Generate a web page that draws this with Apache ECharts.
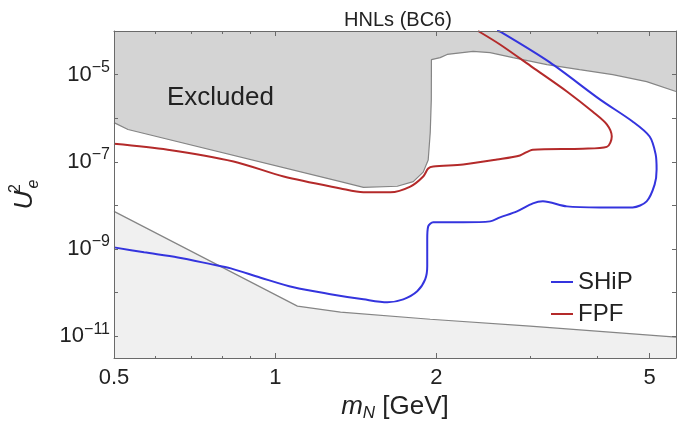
<!DOCTYPE html>
<html><head><meta charset="utf-8">
<script src="https://cdn.jsdelivr.net/npm/echarts@6/dist/echarts.min.js"></script>
<style>html,body{margin:0;padding:0;background:#fff}#c{width:678px;height:427px}</style>
</head><body><div id="c"></div>
<script>
// ---- data (mass in GeV, mixing U_e^2) ----
const shipMass = [2.595, 2.628, 3.256, 4.036, 4.646, 5.000, 5.130, 5.152, 5.108, 4.936, 4.646, 4.036, 3.503, 3.160, 3.027, 2.827, 2.628, 2.518, 2.243, 1.972, 1.930, 1.922, 1.922, 1.905, 1.841, 1.734, 1.619, 1.461, 1.268, 1.082, 0.939, 0.826, 0.758, 0.658, 0.569, 0.500];
const shipU2   = [1.0e-4, 9.7e-5, 1.9e-5, 2.7e-6, 8.4e-7, 3.8e-7, 1.5e-7, 6.7e-8, 3.0e-8, 1.24e-8, 9.0e-9, 9.0e-9, 9.5e-9, 1.24e-8, 1.11e-8, 7.3e-9, 5.3e-9, 4.3e-9, 4.1e-9, 4.1e-9, 3.3e-9, 1.67e-9, 4.0e-10, 2.0e-10, 1.07e-10, 7.0e-11, 6.0e-11, 7.0e-11, 9.2e-11, 1.32e-10, 2.2e-10, 3.6e-10, 4.5e-10, 6.4e-10, 8.4e-10, 1.09e-9];

const fpfMass = [2.392, 2.628, 3.027, 3.503, 3.916, 4.159, 4.249, 4.159, 3.752, 3.027, 2.863, 2.595, 2.243, 1.972, 1.930, 1.889, 1.787, 1.640, 1.461, 1.324, 1.037, 0.836, 0.630, 0.500];
const fpfU2   = [1.0e-4, 4.9e-5, 1.45e-5, 4.1e-6, 1.4e-6, 7.2e-7, 3.8e-7, 2.2e-7, 2.0e-7, 1.9e-7, 1.4e-7, 1.13e-7, 8.7e-8, 7.8e-8, 7.0e-8, 4.6e-8, 2.7e-8, 2.0e-8, 2.0e-8, 2.45e-8, 4.6e-8, 1.02e-7, 1.9e-7, 2.6e-7];

const excludedUpperMass = [0.500, 0.531, 1.324, 1.461, 1.690, 1.810, 1.889, 1.930, 1.947, 1.956, 1.957, 2.032, 2.094, 2.341, 2.518, 2.779, 3.215, 3.70, 4.267, 4.936, 5.6];
const excludedUpperU2   = [7.9e-7, 5.5e-7, 3.5e-8, 2.6e-8, 2.75e-8, 3.5e-8, 5.8e-8, 1.1e-7, 4.7e-7, 2.7e-6, 2.2e-5, 2.45e-5, 2.9e-5, 3.4e-5, 3.2e-5, 2.45e-5, 1.7e-5, 1.3e-5, 1.0e-5, 6.9e-6, 4.1e-6];

const excludedLowerMass = [0.500, 1.10, 1.324, 1.947, 2.99, 5.6];
const excludedLowerU2   = [7.3e-9, 4.9e-11, 3.55e-11, 2.45e-11, 1.7e-11, 9.5e-12];

const xMajorTicks = [0.5, 1, 2, 5];
const xMinorTicks = [0.6, 0.7, 0.8, 0.9, 3, 4];
const yTickExponents  = [-11, -10, -9, -8, -7, -6, -5];
const yLabelExponents = [-11, -9, -7, -5];
const xRange = [0.5, 5.6];
const yRangeExp = [-11.5, -4];

// ---- build ----
const L = Math.log10;
const pts = (ms, us) => ms.map((m, i) => [L(m), L(us[i])]);
const FONT = 'Liberation Sans, Arial, Helvetica, sans-serif';
const TXT = '#222';
const FRAME = '#6a6a6a';
const gridBox = {left: 113, right: 2, top: 31, bottom: 68};

const xBase = {type: 'value', min: L(xRange[0]), max: L(xRange[1]), splitLine: {show: false}, z: 10};
const yBase = {type: 'value', min: yRangeExp[0], max: yRangeExp[1], splitLine: {show: false}, z: 10};
const line = {show: true, onZero: false, lineStyle: {color: FRAME, width: 1}};
const noLine = {show: false, onZero: false};

const chart = echarts.init(document.getElementById('c'), null, {renderer: 'canvas'});
chart.setOption({
  backgroundColor: '#fff',
  animation: false,
  title: {
    text: 'HNLs (BC6)', left: 393, top: 5, textAlign: 'center',
    textStyle: {fontFamily: FONT, fontSize: 20, fontWeight: 'normal', color: TXT}
  },
  grid: [Object.assign({}, gridBox), Object.assign({}, gridBox)],
  xAxis: [
    Object.assign({}, xBase, {
      gridIndex: 0, position: 'bottom', axisLine: line,
      axisTick: {inside: true, length: 5, lineStyle: {color: FRAME}, customValues: xMajorTicks.map(L)},
      axisLabel: {customValues: xMajorTicks.map(L), fontFamily: FONT, fontSize: 22, color: TXT, margin: 9,
        formatter: v => String(Math.round(Math.pow(10, v) * 10) / 10)},
      name: '{i|m}{sub|N}{t| [GeV]}', nameLocation: 'middle', nameGap: 34,
      nameTextStyle: {fontFamily: FONT, color: TXT, rich: {
        i: {fontFamily: FONT, fontSize: 26, fontStyle: 'italic', color: TXT, lineHeight: 30},
        sub: {fontFamily: FONT, fontSize: 17, fontStyle: 'italic', color: TXT, verticalAlign: 'bottom', lineHeight: 30},
        t: {fontFamily: FONT, fontSize: 26, color: TXT, lineHeight: 30}
      }}
    }),
    Object.assign({}, xBase, {
      gridIndex: 0, position: 'top', axisLine: line,
      axisTick: {inside: true, length: 5, lineStyle: {color: FRAME}, customValues: xMajorTicks.map(L)},
      axisLabel: {show: false}
    }),
    Object.assign({}, xBase, {
      gridIndex: 1, position: 'bottom', axisLine: noLine,
      axisTick: {inside: true, length: 3, lineStyle: {color: FRAME}, customValues: xMinorTicks.map(L)},
      axisLabel: {show: false}
    }),
    Object.assign({}, xBase, {
      gridIndex: 1, position: 'top', axisLine: noLine,
      axisTick: {inside: true, length: 3, lineStyle: {color: FRAME}, customValues: xMinorTicks.map(L)},
      axisLabel: {show: false}
    })
  ],
  yAxis: [
    Object.assign({}, yBase, {
      gridIndex: 0, position: 'left', axisLine: line,
      axisTick: {inside: true, length: 4, lineStyle: {color: FRAME}, customValues: yTickExponents},
      axisLabel: {customValues: yLabelExponents, margin: 4,
        formatter: v => '{b|10}{s|\u2212' + Math.abs(Math.round(v)) + '}',
        rich: {
          b: {fontFamily: FONT, fontSize: 22, color: TXT, lineHeight: 30},
          s: {fontFamily: FONT, fontSize: 16, color: TXT, verticalAlign: 'top', lineHeight: 18}
        }},
      name: '{i|U}{g| }{sup|2}{sub|e}', nameLocation: 'middle', nameRotate: 90, nameGap: 72,
      nameTextStyle: {fontFamily: FONT, color: TXT, rich: {
        i: {fontFamily: FONT, fontSize: 26, fontStyle: 'italic', color: TXT, lineHeight: 34},
        g: {fontFamily: FONT, fontSize: 8, lineHeight: 18},
        sup: {fontFamily: FONT, fontSize: 16, color: TXT, verticalAlign: 'top', lineHeight: 18, width: 0.01},
        sub: {fontFamily: FONT, fontSize: 16, fontStyle: 'italic', color: TXT, verticalAlign: 'bottom', lineHeight: 18}
      }}
    }),
    Object.assign({}, yBase, {
      gridIndex: 0, position: 'right', axisLine: line,
      axisTick: {inside: true, length: 4, lineStyle: {color: FRAME}, customValues: yTickExponents},
      axisLabel: {show: false}
    }),
    Object.assign({}, yBase, {
      gridIndex: 1, position: 'left', axisLine: noLine, axisTick: {show: false}, axisLabel: {show: false}
    })
  ],
  legend: {
    data: ['SHiP', 'FPF'], orient: 'vertical', left: 546, top: 265,
    icon: 'rect', itemWidth: 22, itemHeight: 2, itemGap: 8,
    textStyle: {fontFamily: FONT, fontSize: 24, color: TXT}
  },
  graphic: [{
    type: 'text', left: 167, top: 85, silent: true, z: 20,
    style: {text: 'Excluded', fontFamily: FONT, fontSize: 26, fill: TXT}
  }],
  series: [
    {
      name: 'Excluded (upper)', type: 'line', xAxisIndex: 0, yAxisIndex: 0, z: 1,
      data: pts(excludedUpperMass, excludedUpperU2), symbol: 'none', silent: true,
      lineStyle: {color: '#858585', width: 1.2},
      areaStyle: {color: '#d4d4d4', opacity: 1, origin: 'end'}
    },
    {
      name: 'Excluded (lower)', type: 'line', xAxisIndex: 0, yAxisIndex: 0, z: 1,
      data: pts(excludedLowerMass, excludedLowerU2), symbol: 'none', silent: true,
      lineStyle: {color: '#858585', width: 1.2},
      areaStyle: {color: '#f0f0f0', opacity: 1, origin: 'start'}
    },
    {
      name: 'SHiP', type: 'line', xAxisIndex: 0, yAxisIndex: 0, z: 3,
      data: pts(shipMass, shipU2), symbol: 'none', smooth: 0.3, color: '#3434de',
      lineStyle: {color: '#3434de', width: 2}
    },
    {
      name: 'FPF', type: 'line', xAxisIndex: 0, yAxisIndex: 0, z: 3,
      data: pts(fpfMass, fpfU2), symbol: 'none', smooth: 0.3, color: '#b42a2a',
      lineStyle: {color: '#b42a2a', width: 2}
    }
  ]
});
</script>
</body></html>
